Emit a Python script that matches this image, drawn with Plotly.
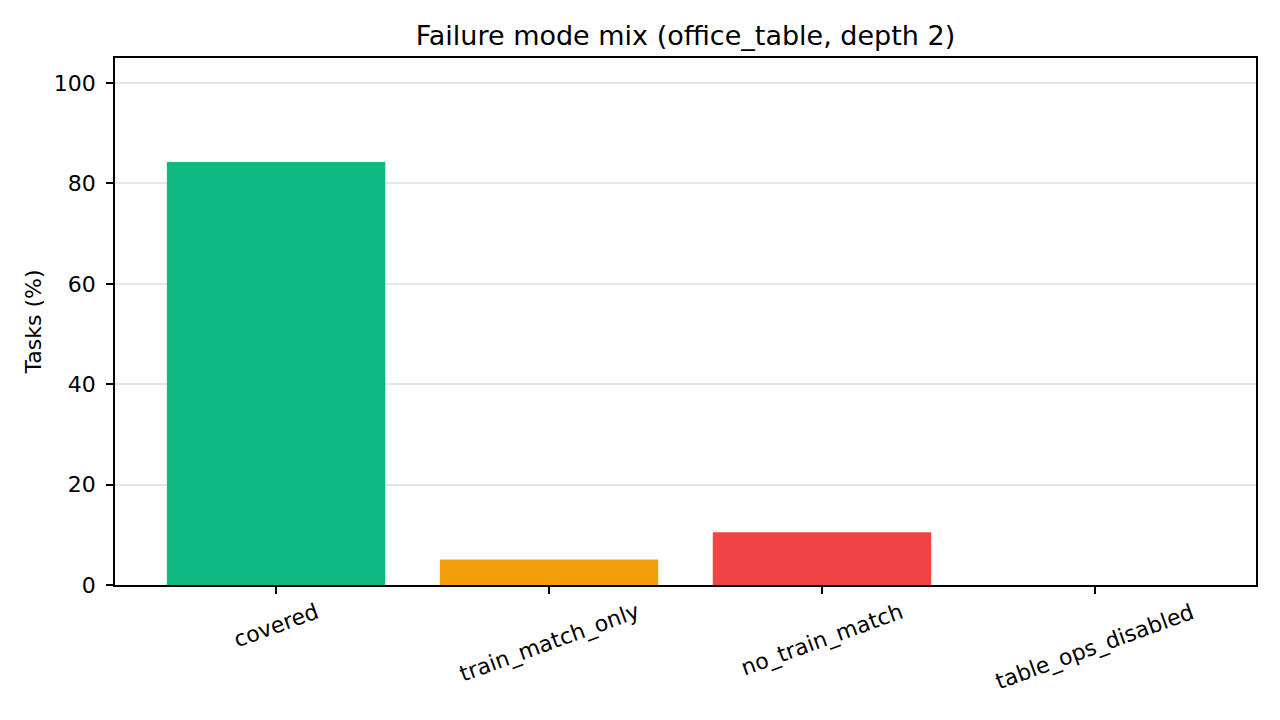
import plotly.graph_objects as go

# Failure mode breakdown
categories = ["covered", "train_match_only", "no_train_match", "table_ops_disabled"]
share_pct = [84.3, 5.1, 10.5, 0.0]
bar_colors = ["#10b981", "#f59e0b", "#ef4444", "#6b7280"]

# the page adds an 8px body margin, so the figure margins are offset to match
font = dict(family="DejaVu Sans", size=22, color="black")
positions = list(range(len(categories)))

fig = go.Figure()
fig.add_trace(go.Bar(
    x=positions,
    y=share_pct,
    width=0.8,
    marker=dict(color=bar_colors, line=dict(width=0)),
))

# rotated category labels, centred under each tick like the matplotlib original
for pos, name in zip(positions, categories):
    fig.add_annotation(
        x=pos, y=0, xref="x", yref="paper",
        text=name, showarrow=False, textangle=-20,
        xanchor="center", yanchor="top", yshift=-11,
        font=dict(family="DejaVu Sans", size=22, color="black"),
    )

fig.update_layout(
    width=1280, height=720,
    paper_bgcolor="white", plot_bgcolor="white",
    font=font,
    showlegend=False,
    margin=dict(l=107, r=32, t=50, b=143),
    title=dict(text="Failure mode mix (office_table, depth 2)", x=0.5, xanchor="center",
               xref="paper", y=1 - 28 / 720, yanchor="middle", font=dict(size=27)),
)
fig.update_xaxes(
    range=[-0.59, len(categories) - 1 + 0.59],
    tickmode="array", tickvals=positions, showticklabels=False,
    ticks="outside", ticklen=7, tickwidth=1.6, tickcolor="black",
    showline=True, linecolor="black", linewidth=1.6, mirror=True,
    showgrid=False, zeroline=False,
)
fig.update_yaxes(
    range=[0, 105], dtick=20, ticks="outside", ticklen=7, tickwidth=1.6, tickcolor="black",
    ticklabelstandoff=6,
    showline=True, linecolor="black", linewidth=1.6, mirror=True,
    showgrid=True, gridcolor="#e6e6e6", gridwidth=1.6, zeroline=False,
    title=dict(text="Tasks (%)", standoff=6, font=dict(size=22)),
)

fig.write_html("out.html")
